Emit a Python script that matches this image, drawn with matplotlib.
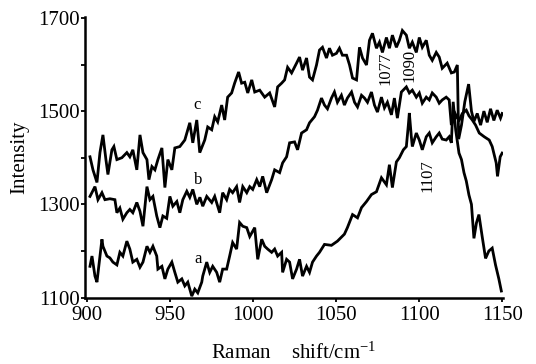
import matplotlib
matplotlib.use("Agg")
import matplotlib.pyplot as plt

# ---- data ----
shift_c = [901.8, 903.6, 906.0, 907.8, 909.6, 911.4, 912.6, 915.0, 916.2, 918.0, 921.0, 924.0, 925.8, 927.6,
           930.0, 931.9, 933.7, 936.1, 937.3, 939.1, 940.9, 942.7, 945.1, 946.9, 948.7, 951.1, 952.9, 955.9,
           958.9, 961.9, 963.7, 966.1, 967.9, 970.9, 972.7, 975.1, 976.9, 978.7, 981.1, 982.9, 984.7, 987.1,
           988.9, 991.3, 993.1, 995.0, 996.8, 999.2, 1001.0, 1004.0, 1007.0, 1010.0, 1013.0, 1014.8, 1017.2,
           1019.0, 1020.8, 1023.2, 1026.2, 1028.0, 1029.8, 1032.2, 1034.0, 1035.8, 1038.2, 1040.0, 1041.8,
           1044.2, 1046.0, 1047.8, 1050.2, 1052.0, 1053.8, 1056.3, 1058.1, 1059.9, 1062.3, 1064.1, 1065.9,
           1068.3, 1070.1, 1071.9, 1074.3, 1076.1, 1077.9, 1080.3, 1082.1, 1083.9, 1086.3, 1088.1, 1089.9,
           1092.3, 1094.1, 1095.9, 1098.3, 1100.1, 1101.9, 1104.3, 1106.1, 1107.9, 1110.3, 1112.1, 1113.9,
           1116.9, 1119.4, 1121.2, 1123.0, 1123.8, 1125.5, 1127.5, 1129.8, 1131.5, 1133.0, 1135.0, 1137.0,
           1139.0, 1141.0, 1143.0, 1145.0, 1147.0, 1149.0, 1150.0]
intensity_c = [1402, 1374, 1347, 1411, 1449, 1396, 1364, 1417, 1424, 1396, 1400, 1411, 1402, 1417,
               1374, 1449, 1411, 1396, 1353, 1381, 1374, 1396, 1421, 1336, 1396, 1374, 1421, 1424,
               1438, 1475, 1432, 1481, 1411, 1438, 1466, 1460, 1488, 1477, 1513, 1481, 1530, 1539,
               1560, 1584, 1560, 1562, 1539, 1567, 1541, 1545, 1530, 1539, 1509, 1552, 1560,
               1567, 1594, 1582, 1603, 1616, 1588, 1614, 1573, 1567, 1599, 1631, 1637,
               1614, 1635, 1620, 1624, 1635, 1620, 1620, 1599, 1571, 1567, 1637, 1614,
               1599, 1652, 1667, 1635, 1648, 1626, 1658, 1635, 1663, 1637, 1652, 1673,
               1663, 1635, 1648, 1626, 1658, 1637, 1652, 1620, 1609, 1626, 1616, 1592,
               1603, 1582, 1584, 1599, 1440, 1470, 1520, 1558, 1500, 1478, 1495, 1470,
               1500, 1476, 1505, 1480, 1502, 1485, 1495]

shift_b = [901.8, 904.8, 906.6, 909.0, 910.8, 913.8, 916.8, 918.0, 919.8, 921.6, 924.0, 925.8, 927.6,
           930.0, 931.9, 933.7, 936.1, 937.9, 939.7, 942.0, 943.9, 945.7, 948.0, 949.9, 951.7, 954.1,
           955.9, 957.7, 960.1, 961.9, 963.7, 966.1, 968.0, 969.7, 972.1, 975.1, 976.9, 979.9, 981.7,
           984.1, 985.9, 987.7, 990.1, 991.9, 993.8, 996.2, 998.0, 999.8, 1002.2, 1004.0, 1005.8, 1008.2,
           1011.2, 1013.0, 1016.0, 1017.8, 1020.2, 1022.0, 1025.0, 1026.8, 1029.2, 1032.2, 1034.0, 1037.0,
           1038.8, 1041.2, 1043.0, 1044.8, 1047.2, 1049.0, 1050.8, 1053.2, 1055.0, 1056.8, 1059.3, 1061.1,
           1062.9, 1065.3, 1067.1, 1068.9, 1071.3, 1073.1, 1074.9, 1077.3, 1079.1, 1080.9, 1083.3, 1085.1,
           1086.9, 1089.3, 1092.3, 1094.1, 1095.9, 1098.3, 1100.1, 1101.9, 1104.3, 1106.1, 1107.9, 1110.3,
           1112.1, 1113.9, 1116.3, 1118.1, 1119.4, 1121.0, 1123.0, 1124.2, 1126.0, 1128.4, 1130.0, 1132.0,
           1134.0, 1136.2, 1139.2, 1142.2, 1144.0, 1146.4, 1147.2, 1148.8, 1150.0]
intensity_b = [1317, 1338, 1310, 1325, 1310, 1312, 1310, 1282, 1292, 1268, 1282, 1289, 1282,
               1304, 1285, 1253, 1338, 1310, 1317, 1275, 1250, 1275, 1270, 1317, 1296, 1306,
               1282, 1310, 1328, 1315, 1332, 1300, 1315, 1296, 1317, 1304, 1317, 1282, 1325,
               1310, 1332, 1325, 1338, 1304, 1338, 1325, 1338, 1332, 1353, 1338, 1360, 1325,
               1353, 1374, 1368, 1389, 1402, 1432, 1434, 1417, 1453, 1460, 1475, 1488,
               1502, 1528, 1513, 1505, 1528, 1541, 1519, 1534, 1513, 1528, 1541, 1519,
               1509, 1534, 1528, 1519, 1541, 1513, 1498, 1530, 1507, 1519, 1492, 1528,
               1485, 1541, 1552, 1539, 1545, 1530, 1539, 1517, 1530, 1524, 1539, 1530,
               1517, 1524, 1530, 1524, 1470, 1500, 1485, 1481, 1495, 1502, 1490, 1481,
               1470, 1453, 1445, 1438, 1424, 1389, 1360, 1402, 1410]

shift_a = [901.8, 903.0, 904.8, 906.0, 907.2, 909.0, 909.6, 912.0, 913.8, 915.6, 918.0, 919.8, 921.6,
           924.0, 925.8, 927.6, 930.0, 931.9, 933.7, 936.1, 937.9, 939.7, 942.0, 942.7, 945.1, 946.9,
           948.7, 951.1, 952.9, 954.7, 957.1, 958.9, 960.7, 963.1, 964.9, 966.7, 969.1, 969.7, 972.1,
           973.9, 975.7, 978.1, 979.9, 981.7, 984.1, 985.9, 987.7, 990.1, 991.9, 993.8, 996.2, 998.0,
           1001.0, 1002.8, 1005.2, 1007.0, 1008.8, 1011.2, 1013.0, 1014.8, 1017.2, 1017.8, 1020.2, 1022.0,
           1023.8, 1026.2, 1028.0, 1029.8, 1032.2, 1034.0, 1035.8, 1038.2, 1040.0, 1043.0, 1047.2, 1050.8,
           1055.0, 1056.8, 1059.9, 1062.9, 1065.3, 1068.3, 1071.3, 1074.3, 1077.3, 1080.3, 1082.1, 1083.9,
           1086.3, 1088.1, 1090.5, 1092.3, 1093.5, 1094.1, 1095.3, 1095.9, 1098.3, 1100.1, 1101.9, 1104.3,
           1106.1, 1107.9, 1110.3, 1112.1, 1113.9, 1116.3, 1118.1, 1119.4, 1120.5, 1122.0, 1124.0, 1125.5,
           1127.0, 1128.4, 1130.0, 1131.5, 1133.0, 1134.5, 1136.0, 1138.0, 1140.0, 1142.0, 1144.0, 1146.0,
           1148.0, 1149.5]
intensity_a = [1167, 1189, 1146, 1133, 1170, 1225, 1210, 1189, 1185, 1176, 1170, 1197, 1189,
               1221, 1204, 1176, 1182, 1165, 1176, 1210, 1197, 1210, 1189, 1161, 1167, 1140,
               1161, 1176, 1154, 1133, 1140, 1125, 1133, 1103, 1118, 1110, 1133, 1146, 1176,
               1154, 1167, 1154, 1133, 1161, 1161, 1189, 1218, 1204, 1261, 1253, 1250, 1231,
               1250, 1182, 1225, 1210, 1204, 1197, 1204, 1189, 1197, 1154, 1182, 1176,
               1140, 1161, 1182, 1146, 1167, 1154, 1176, 1189, 1197, 1214, 1212, 1221,
               1236, 1250, 1278, 1271, 1293, 1306, 1321, 1327, 1357, 1342, 1385, 1336,
               1391, 1400, 1417, 1424, 1470, 1496, 1445, 1424, 1453, 1438, 1417, 1445,
               1453, 1432, 1445, 1453, 1440, 1438, 1445, 1432, 1520, 1460, 1410, 1396,
               1368, 1350, 1320, 1300, 1227, 1260, 1278, 1230, 1184, 1200, 1206, 1170,
               1140, 1114]

curve_labels = ["a", "b", "c"]
label_pos_x = [967, 967, 966]
label_pos_y = [1182, 1353, 1513]

peak_labels = ["1077", "1090", "1107"]
peak_x = [1080, 1094, 1105]
peak_y = [1592, 1598, 1362]

xticks = [900, 950, 1000, 1050, 1100, 1150]
yticks = [1100, 1300, 1500, 1700]
yminor = [1200, 1400, 1600]

# ---- figure ----
plt.rcParams['font.family'] = ['Liberation Serif', 'DejaVu Serif']
plt.rcParams['mathtext.fontset'] = 'stix'

fig = plt.figure(figsize=(5.36, 3.64), dpi=100)
ax = fig.add_axes([85 / 536, 1 - 298 / 364, (503 - 85) / 536, (298 - 17) / 364])

lw = 2.0
ax.plot(shift_c, intensity_c, color='black', lw=lw, solid_joinstyle='miter')
ax.plot(shift_b, intensity_b, color='black', lw=lw, solid_joinstyle='miter')
ax.plot(shift_a, intensity_a, color='black', lw=lw, solid_joinstyle='miter')

for t, x, y in zip(curve_labels, label_pos_x, label_pos_y):
    ax.text(x, y, t, fontsize=12, ha='center', va='center')
for t, x, y in zip(peak_labels, peak_x, peak_y):
    ax.text(x, y, t, fontsize=12, ha='center', va='center', rotation=90)

ax.set_xlim(898.8, 1150.5)
ax.set_ylim(1099, 1702)
ax.set_xticks(xticks)
ax.set_yticks(yticks)
ax.set_yticks(yminor, minor=True)
ax.tick_params(axis='both', which='both', direction='out', length=3, width=1.3, labelsize=15, pad=1)
ax.tick_params(axis='x', pad=3)
for s in ['top', 'right']:
    ax.spines[s].set_visible(False)
for s in ['left', 'bottom']:
    ax.spines[s].set_linewidth(1.8)

ax.set_ylabel('Intensity', fontsize=15, labelpad=6)
ax.set_xlabel('Raman    shift/cm$^{\\mathregular{-1}}$', fontsize=15, labelpad=12)

fig.savefig('out.png', dpi=100)
